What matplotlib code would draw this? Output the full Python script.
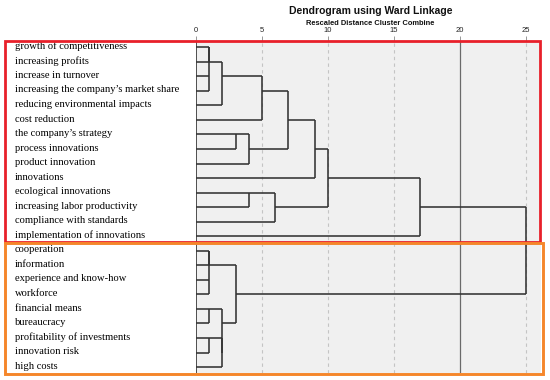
import matplotlib
matplotlib.use("Agg")
import matplotlib.pyplot as plt
from matplotlib.patches import Rectangle
from matplotlib.transforms import blended_transform_factory
import math

# ---- data ----
labels = [
    "growth of competitiveness", "increasing profits", "increase in turnover",
    "increasing the company\u2019s market share", "reducing environmental impacts",
    "cost reduction", "the company\u2019s strategy", "process innovations",
    "product innovation", "innovations", "ecological innovations",
    "increasing labor productivity", "compliance with standards",
    "implementation of innovations",
    "cooperation", "information", "experience and know-how", "workforce",
    "financial means", "bureaucracy", "profitability of investments",
    "innovation risk", "high costs",
]
# linkage: (child_a, child_b, rescaled distance); new cluster id = 23 + index
merge_a = [0, 2, 23, 14, 16, 26, 18, 20, 25, 30, 29, 6, 28, 34, 10, 31, 37, 38, 40, 41, 42, 43]
merge_b = [1, 3, 24, 15, 17, 27, 19, 21, 4, 22, 32, 7, 33, 8, 11, 5, 12, 36, 9, 39, 13, 35]
merge_d = [1, 1, 1, 1, 1, 1, 1, 1, 2, 2, 2, 3, 3, 4, 4, 5, 6, 7, 9, 10, 17, 25]
tick_values = [0, 5, 10, 15, 20, 25]
dashed_grid = [5, 10, 15, 25]
solid_grid = [20]

W, H = 550, 380
fig = plt.figure(figsize=(W / 100, H / 100), dpi=100)

def fx(px):
    return px / W

def fy(py):
    return 1 - py / H

# dendrogram panel
left_px, right_px, top_px, bot_px = 196, 541, 40.7, 373
ax = fig.add_axes([fx(left_px), fy(bot_px), fx(right_px) - fx(left_px), fy(top_px) - fy(bot_px)])
ax.set_facecolor("#f0f0f0")
n = len(labels)
ax.set_xlim(0, (right_px - left_px) / 13.2)
ax.set_ylim(n - 1 + 0.41, -0.45)
for s in ax.spines.values():
    s.set_visible(False)

for g in dashed_grid:
    ax.axvline(g, color="#c4c4c4", lw=0.8, ls=(0, (3, 3)), zorder=1)
for g in solid_grid:
    ax.axvline(g, color="#6a6a6a", lw=0.9, zorder=1)
ax.axvline(0, color="#333333", lw=1.2, zorder=3)

# compute connector rows and draw
row = {i: i for i in range(n)}
dist = {i: 0 for i in range(n)}
lc = "#333333"
for k, (a, b, d) in enumerate(zip(merge_a, merge_b, merge_d)):
    cid = n + k
    for c in (a, b):
        ax.plot([dist[c], d], [row[c], row[c]], color=lc, lw=1.15, zorder=3, solid_capstyle="butt")
    ax.plot([d, d], [row[a], row[b]], color=lc, lw=1.15, zorder=3, solid_capstyle="butt")
    row[cid] = math.floor((row[a] + row[b]) / 2)
    dist[cid] = d

ax.xaxis.tick_top()
ax.set_xticks(tick_values)
ax.set_xticklabels([str(t) for t in tick_values])
ax.tick_params(axis="x", length=3.5, width=0.6, color="#888888", pad=1,
               labelsize=5.5, labelcolor="#222222")
for t in ax.get_xticklabels():
    t.set_family("Liberation Sans")
ax.set_yticks([])

# labels
tr = blended_transform_factory(fig.transFigure, ax.transData)
for i, lab in enumerate(labels):
    ax.text(fx(15), i - 0.06, lab, transform=tr, ha="left", va="center",
            fontsize=7.6, family="Liberation Serif", color="#000000", clip_on=False)

# titles
fig.text(fx(370.5), fy(10.5), "Dendrogram using Ward Linkage", ha="center", va="center",
         fontsize=7.5, fontweight="bold", family="Liberation Sans", color="#111111")
fig.text(fx(370), fy(23.5), "Rescaled Distance Cluster Combine", ha="center", va="center",
         fontsize=5.4, fontweight="bold", family="Liberation Sans", color="#111111")

# group boxes
red = Rectangle((fx(4.5), fy(241.5)), fx(539.7) - fx(4.5), fy(40.7) - fy(241.5),
                transform=fig.transFigure, fill=False, ec="#e8202a", lw=2.0, zorder=10)
orange = Rectangle((fx(5), fy(373.7)), fx(542.5) - fx(5), fy(243.3) - fy(373.7),
                   transform=fig.transFigure, fill=False, ec="#f5862a", lw=2.1, zorder=10)
fig.add_artist(red)
fig.add_artist(orange)

fig.savefig("out.png", dpi=100)
